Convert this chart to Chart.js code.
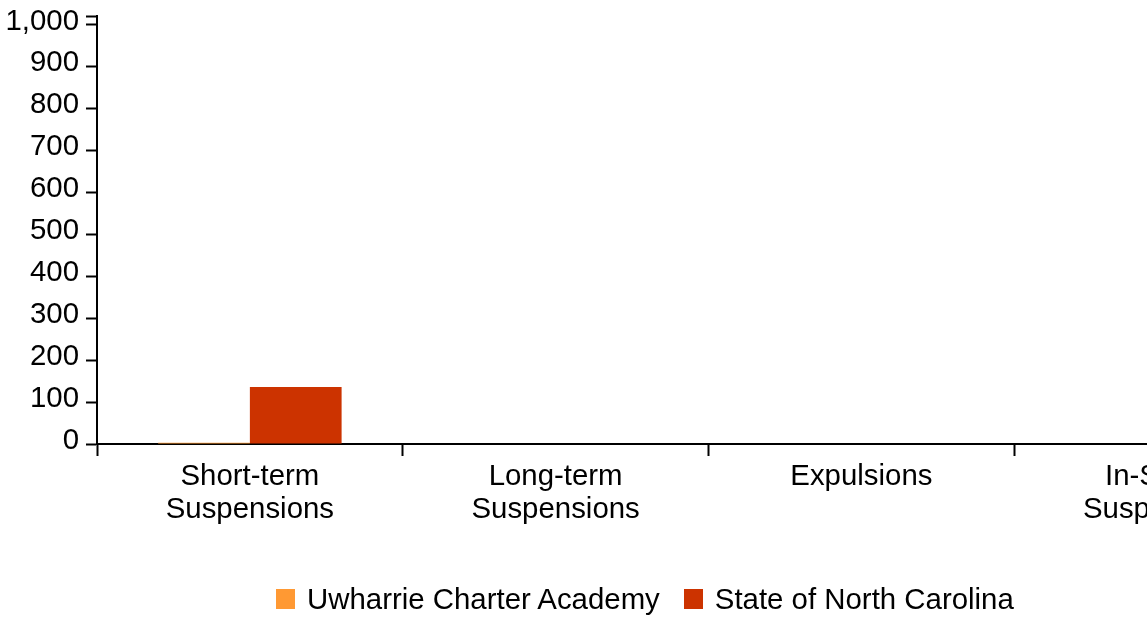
<!DOCTYPE html>
<html>
<head>
<meta charset="utf-8">
<script src="https://cdn.jsdelivr.net/npm/chart.js@4/dist/chart.umd.min.js"></script>
<style>
  html, body { margin: 0; padding: 0; background: #fff; overflow: hidden; width: 1147px; height: 617px; }
  #wrap { position: absolute; left: 0; top: 0; width: 1320px; height: 617px; }
  #legend { position: absolute; left: 276px; top: 589px; height: 20px; display: flex; align-items: center;
            font-family: 'Liberation Sans', Arial, sans-serif; font-size: 29.4px; color: #000; white-space: nowrap; }
  #legend .sw { width: 19px; height: 20px; margin-right: 12px; }
  #legend .item { display: flex; align-items: center; margin-right: 24px; }
</style>
</head>
<body>
<div id="wrap"><canvas id="c"></canvas></div>
<div id="legend"></div>
<script>
const categories = [['Short-term', 'Suspensions'], ['Long-term', 'Suspensions'], ['Expulsions'], ['In-School', 'Suspensions']];
const seriesNames = ['Uwharrie Charter Academy', 'State of North Carolina'];
const uwharrieValues = [3, 0, 0, 0];
const stateValues = [136, 0, 0, 0];
const yTickValues = [0, 100, 200, 300, 400, 500, 600, 700, 800, 900, 1000];
const yTickLabels = ['0', '100', '200', '300', '400', '500', '600', '700', '800', '900', '1,000'];
const yAxisMax = 1020;

const colors = ['#FF9933', '#CC3300'];
const FONT = "'Liberation Sans', Arial, sans-serif";

const legend = document.getElementById('legend');
seriesNames.forEach((n, i) => {
  const it = document.createElement('div'); it.className = 'item';
  const sw = document.createElement('div'); sw.className = 'sw'; sw.style.background = colors[i];
  const tx = document.createElement('span'); tx.textContent = n;
  it.appendChild(sw); it.appendChild(tx); legend.appendChild(it);
});

new Chart(document.getElementById('c'), {
  type: 'bar',
  data: {
    labels: categories,
    datasets: [
      { label: seriesNames[0], data: uwharrieValues, backgroundColor: colors[0], borderWidth: 0 },
      { label: seriesNames[1], data: stateValues, backgroundColor: colors[1], borderWidth: 0 }
    ]
  },
  options: {
    responsive: true,
    maintainAspectRatio: false,
    animation: false,
    devicePixelRatio: 1,
    layout: { padding: { top: 16, left: 0, right: 0, bottom: 0 } },
    plugins: { legend: { display: false }, tooltip: { enabled: false } },
    datasets: { bar: { barPercentage: 1.0, categoryPercentage: 0.6 } },
    scales: {
      x: {
        offset: true,
        grid: { display: true, offset: true, drawOnChartArea: false, tickLength: 12, tickWidth: 2, tickColor: '#000' },
        border: { display: true, color: '#000', width: 2 },
        ticks: { color: '#000', font: { family: FONT, size: 29.4, lineHeight: 1.13 }, padding: 4, maxRotation: 0, autoSkip: false },
        afterFit(scale) { scale.height = 617 - 444; scale.paddingLeft = 0; scale.paddingRight = 0; }
      },
      y: {
        min: 0,
        max: yAxisMax,
        grid: { display: true, drawOnChartArea: false, tickLength: 11, tickWidth: 2, tickColor: '#000' },
        border: { display: true, color: '#000', width: 2 },
        ticks: {
          color: '#000', font: { family: FONT, size: 29.4, lineHeight: 1.13 }, padding: 7, labelOffset: -3,
          callback(value) { const i = yTickValues.indexOf(value); return i >= 0 ? yTickLabels[i] : ''; }
        },
        afterBuildTicks(scale) { scale.ticks = yTickValues.concat([yAxisMax]).map(v => ({ value: v })); },
        afterFit(scale) { scale.width = 97; scale.paddingTop = 0; scale.paddingBottom = 0; }
      }
    }
  }
});
</script>
</body>
</html>
